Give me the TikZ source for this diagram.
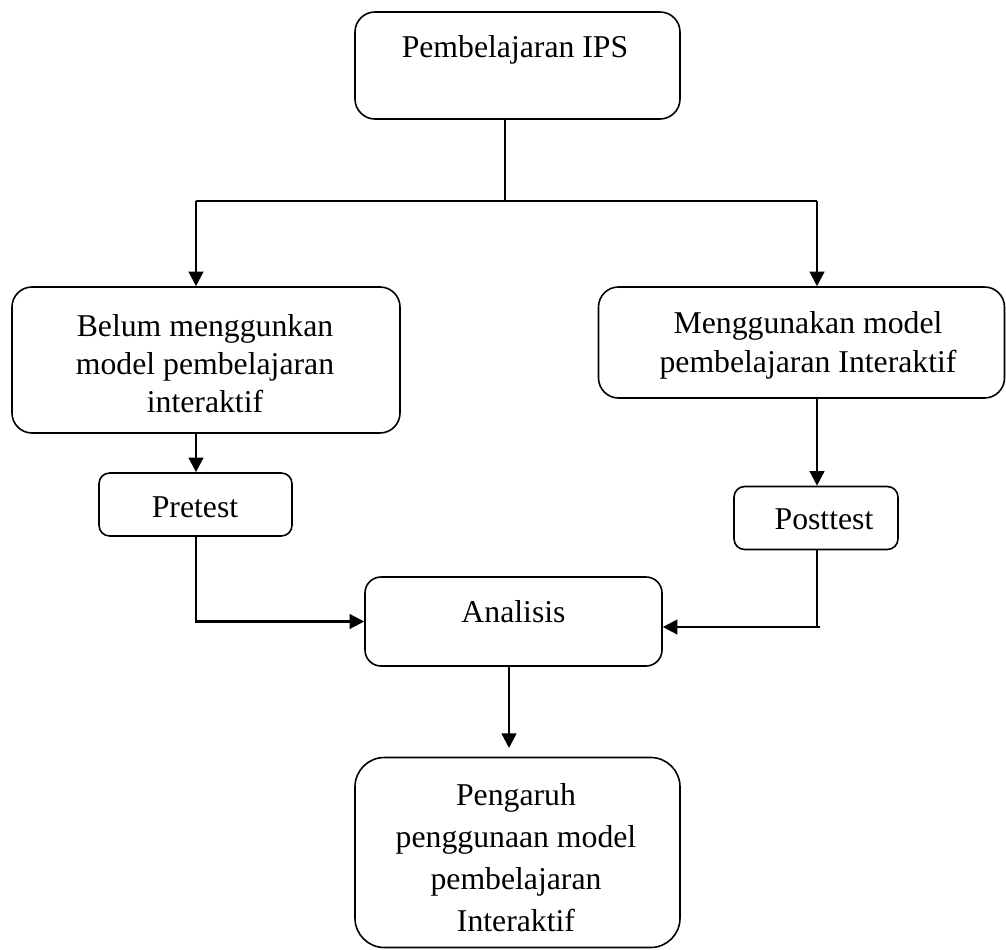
\documentclass[tikz,border=0pt]{standalone}
\usepackage{fontspec}
\setmainfont{Liberation Serif}
\usetikzlibrary{arrows.meta}
\begin{document}
\begin{tikzpicture}[x=0.75pt,y=-0.75pt,
  box/.style={draw,line width=1.2pt,rounded corners=15pt,inner sep=0pt},
  smallbox/.style={draw,line width=1.2pt,rounded corners=8pt,inner sep=0pt},
  txt/.style={anchor=base,inner sep=0pt,font=\fontsize{23.8}{28.5}\selectfont},
  conn/.style={line width=1.8pt},
  arr/.style={line width=1.8pt,-{Triangle[length=11pt,width=11pt]}},
  thinline/.style={line width=0.8pt}]
\useasboundingbox (0,0) rectangle (1006,949);
% boxes
\node[box,minimum width=325*0.75pt,minimum height=107*0.75pt] (top) at (517.5,65.5) {};
\node[box,minimum width=388*0.75pt,minimum height=146*0.75pt] (left) at (206,360) {};
\node[box,minimum width=406*0.75pt,minimum height=111*0.75pt] (right) at (801.5,342.5) {};
\node[smallbox,minimum width=193*0.75pt,minimum height=63*0.75pt] (pre) at (195.5,504.5) {};
\node[smallbox,minimum width=164*0.75pt,minimum height=63*0.75pt] (post) at (816,518) {};
\node[box,rounded corners=12pt,minimum width=297*0.75pt,minimum height=89*0.75pt] (ana) at (513.5,621.5) {};
\node[box,rounded corners=22pt,minimum width=325*0.75pt,minimum height=190*0.75pt] (peng) at (517.5,852.5) {};
% texts
\node[txt] (t0) at (515,58) {Pembelajaran IPS};
\node[txt] (t1) at (205,336) {Belum menggunkan};
\node[txt] (t2) at (205,374) {model pembelajaran};
\node[txt] (t3) at (205,412) {interaktif};
\node[txt] (t4) at (808,333) {Menggunakan model};
\node[txt] (t5) at (808,372) {pembelajaran Interaktif};
\node[txt] (t6) at (195,517) {Pretest};
\node[txt] (t7) at (824,529) {Posttest};
\node[txt] (t8) at (513.5,622) {Analisis};
\node[txt] (t9) at (516,805) {Pengaruh};
\node[txt] (t10) at (516,847) {penggunaan model};
\node[txt] (t11) at (516,889) {pembelajaran};
\node[txt] (t12) at (516,931) {Interaktif};
% junction coordinates
\coordinate (j) at (505,201);
\coordinate (jl) at (196,201);
\coordinate (jr) at (817,201);
\coordinate (pr) at (820,627);
\coordinate (ay) at (509,748);
% connectors
\draw[thinline] (j |- top.south) -- (j);
\draw[conn] (jl) -- (jr);
\draw[arr] (jl) -- (jl |- left.north);
\draw[arr] (jr) -- (jr |- right.north);
\draw[arr] (jl |- left.south) -- (jl |- pre.north);
\draw[arr] (jr |- right.south) -- (jr |- post.north);
\draw[arr] (jl |- pre.south) |- (ana.west);
\draw[conn] (jr |- post.south) -- (jr |- pr);
\draw[arr] (pr) -- (ana.east |- pr);
\draw[arr] (ay |- ana.south) -- (ay);
\end{tikzpicture}
\end{document}
